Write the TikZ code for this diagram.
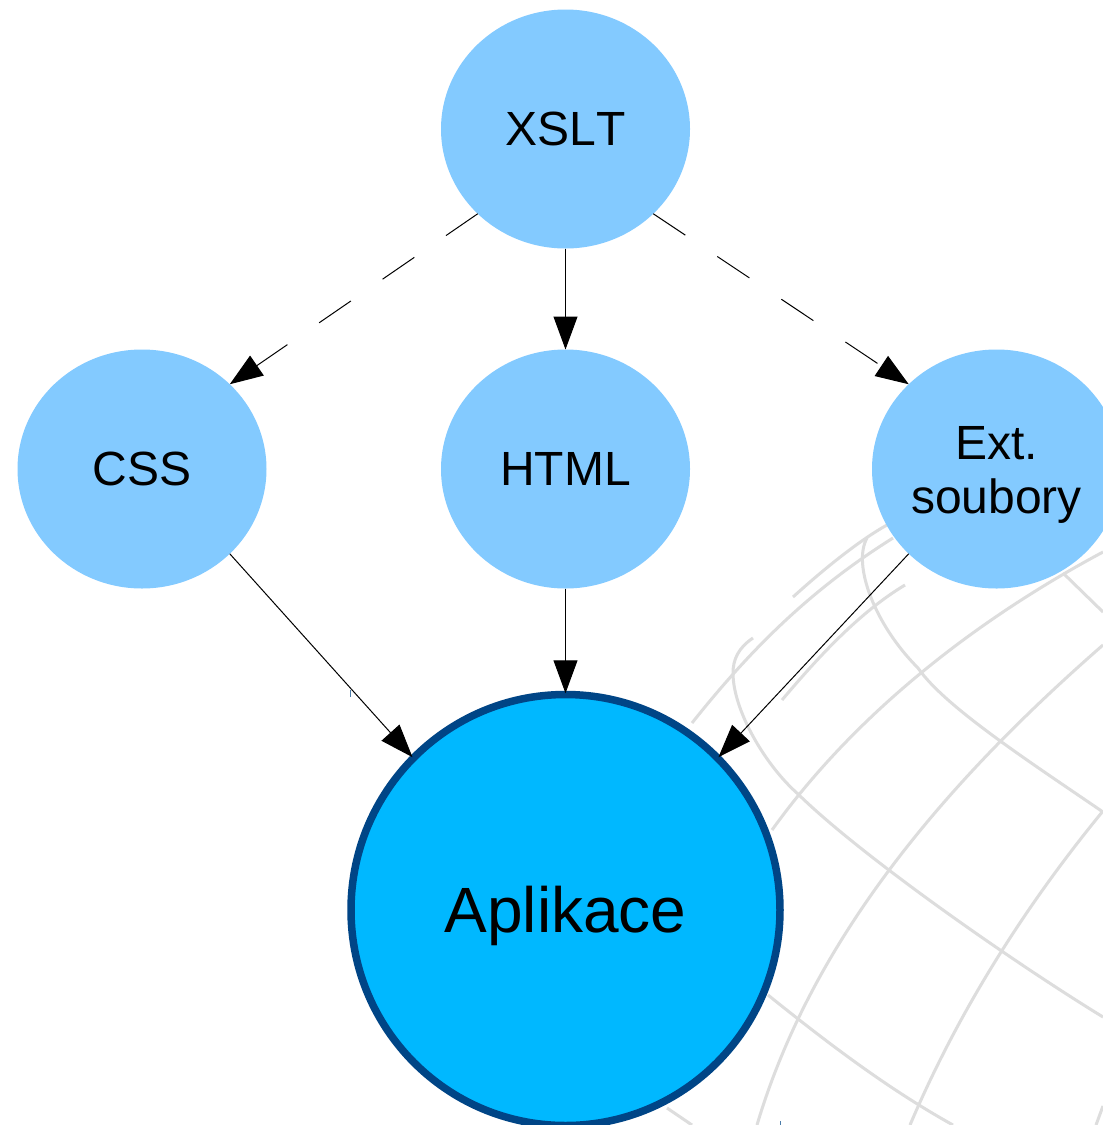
\documentclass[tikz,border=0pt]{standalone}
\usepackage{fontspec}
\setmainfont[Kerning=Off]{Liberation Sans}
\usetikzlibrary{shapes.geometric,arrows.meta}
\definecolor{lightblob}{HTML}{83CAFF}
\definecolor{bigblob}{HTML}{00B8FF}
\definecolor{bigedge}{HTML}{004586}
\definecolor{gridgrey}{HTML}{DDDDDD}
\tikzset{
  blob/.style={shape=ellipse,fill=lightblob,minimum width=249pt,minimum height=239pt,inner sep=0pt,outer sep=0pt,align=center,font=\fontsize{48}{54}\selectfont},
  mainblob/.style={shape=ellipse,fill=bigblob,draw=bigedge,line width=7.5pt,minimum width=429pt,minimum height=431pt,inner sep=0pt,font=\fontsize{64}{70}\selectfont},
  link/.style={line width=1pt,draw=black,-{Triangle[length=33pt,width=24pt]}},
  intolink/.style={link,shorten >=-2.5pt},
  dashlink/.style={link,dash pattern=on 38.5pt off 38.5pt},
  globe/.style={draw=gridgrey,line width=3pt},
  speck/.style={draw=bigedge!70,line width=1pt}
}
\begin{document}
\begin{tikzpicture}[x=1pt,y=-1pt]
\clip (0,0) rectangle (1103,1125);
\fill[white] (0,0) rectangle (1103,1125);
% faint globe background
\draw[globe] (867,538) .. controls (852,565) and (875,625) .. (918,668) .. controls (945,707) and (1030,762) .. (1103,812);
\draw[globe] (753,638) .. controls (738,648) and (733,660) .. (733,673) .. controls (733,710) and (765,765) .. (798,794) .. controls (860,855) and (1010,960) .. (1103,1017);
\draw[globe] (667,1108) -- (692,1125);
\draw[globe] (768,995) .. controls (830,1045) and (890,1090) .. (953,1125);
\draw[globe] (692,723) .. controls (750,650) and (810,590) .. (893,538);
\draw[globe] (793,597) .. controls (825,568) and (860,540) .. (887,525);
\draw[globe] (782,700) .. controls (820,655) and (860,612) .. (905,585);
\draw[globe] (772,830) .. controls (856,713) and (976,620) .. (1103,552);
\draw[globe] (757,1125) .. controls (814,933) and (953,776) .. (1103,645);
\draw[globe] (910,1125) .. controls (958,1012) and (1025,906) .. (1103,811);
\draw[globe] (1063,573) -- (1103,612);
\draw[globe] (1096,1125) -- (1103,1106);
\draw[speck] (350,690) -- (350,697);
\draw[speck] (780,1121) -- (780,1125);
% nodes
\node[blob] (xslt) at (565.5,129) {XSLT};
\node[blob] (css) at (142,469) {CSS};
\node[blob] (html) at (565.5,469) {HTML};
\node[blob] (ext) at (996.5,469) {\rule{0pt}{44pt}Ext.\\soubory};
\node[mainblob] (app) at (565.5,910) {\rule{0pt}{59pt}Aplikace};
% connectors
\draw[dashlink] (xslt.224) -- (css.44);
\draw[link] (xslt.south) -- (html.north);
\draw[dashlink] (xslt.316) -- (ext.136);
\draw[intolink] (css.316) -- (app.135);
\draw[intolink] (html.south) -- (app.north);
\draw[intolink] (ext.224) -- (app.45);
\end{tikzpicture}
\end{document}
